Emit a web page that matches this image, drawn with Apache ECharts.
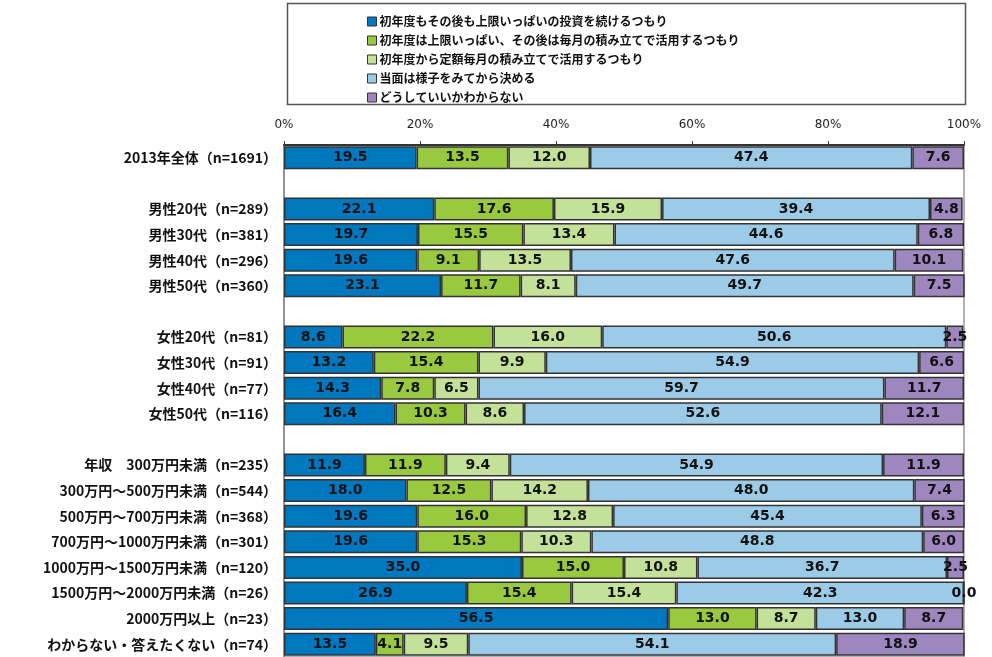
<!DOCTYPE html>
<html>
<head>
<meta charset="utf-8">
<script src="https://cdn.jsdelivr.net/npm/echarts@6/dist/echarts.min.js"></script>
<style>
  html, body { margin: 0; padding: 0; background: #fff; }
  #chart { width: 992px; height: 657px; }
</style>
</head>
<body>
<div id="chart"></div>
<script>
// Row labels, top to bottom; blank rows separate the groups
const categories = [
  '2013年全体（n=1691）',
  ' ',
  '男性20代（n=289）',
  '男性30代（n=381）',
  '男性40代（n=296）',
  '男性50代（n=360）',
  '  ',
  '女性20代（n=81）',
  '女性30代（n=91）',
  '女性40代（n=77）',
  '女性50代（n=116）',
  '   ',
  '年収　300万円未満（n=235）',
  '300万円～500万円未満（n=544）',
  '500万円～700万円未満（n=368）',
  '700万円～1000万円未満（n=301）',
  '1000万円～1500万円未満（n=120）',
  '1500万円～2000万円未満（n=26）',
  '2000万円以上（n=23）',
  'わからない・答えたくない（n=74）'
];

const seriesNames = [
  '初年度もその後も上限いっぱいの投資を続けるつもり',
  '初年度は上限いっぱい、その後は毎月の積み立てで活用するつもり',
  '初年度から定額毎月の積み立てで活用するつもり',
  '当面は様子をみてから決める',
  'どうしていいかわからない'
];

// Percentages per row (null = spacer row)
const fullInvest = [19.5, null, 22.1, 19.7, 19.6, 23.1, null, 8.6, 13.2, 14.3, 16.4, null, 11.9, 18.0, 19.6, 19.6, 35.0, 26.9, 56.5, 13.5];
const fullThenMonthly = [13.5, null, 17.6, 15.5, 9.1, 11.7, null, 22.2, 15.4, 7.8, 10.3, null, 11.9, 12.5, 16.0, 15.3, 15.0, 15.4, 13.0, 4.1];
const monthlyFixed = [12.0, null, 15.9, 13.4, 13.5, 8.1, null, 16.0, 9.9, 6.5, 8.6, null, 9.4, 14.2, 12.8, 10.3, 10.8, 15.4, 8.7, 9.5];
const waitAndSee = [47.4, null, 39.4, 44.6, 47.6, 49.7, null, 50.6, 54.9, 59.7, 52.6, null, 54.9, 48.0, 45.4, 48.8, 36.7, 42.3, 13.0, 54.1];
const notSure = [7.6, null, 4.8, 6.8, 10.1, 7.5, null, 2.5, 6.6, 11.7, 12.1, null, 11.9, 7.4, 6.3, 6.0, 2.5, 0.0, 8.7, 18.9];

const xTicks = [0, 20, 40, 60, 80, 100];

const colors = ['#0078BF', '#99C93F', '#C4E199', '#9CCBE7', '#9E87BF'];
const valueSets = [fullInvest, fullThenMonthly, monthlyFixed, waitAndSee, notSure];

const chart = echarts.init(document.getElementById('chart'));

const series = seriesNames.map((name, i) => ({
  name: name,
  type: 'bar',
  stack: 'total',
  barWidth: 23,
  data: valueSets[i],
  itemStyle: { color: colors[i], borderColor: '#333', borderWidth: 1.5 },
  label: {
    show: true,
    position: 'inside',
    color: '#111',
    fontFamily: 'DejaVu Sans',
    fontWeight: 'bold',
    fontSize: 14,
    formatter: p => (p.value == null ? '' : Number(p.value).toFixed(1))
  },
  emphasis: { disabled: true }
}));

chart.setOption({
  animation: false,
  color: colors,
  graphic: [{
    type: 'rect',
    left: 285, top: 1,
    shape: { width: 678, height: 101 },
    style: { fill: 'none', stroke: '#555', lineWidth: 1.5 },
    silent: true
  }],
  legend: {
    orient: 'vertical',
    left: 362,
    top: 10,
    itemWidth: 9,
    itemHeight: 9,
    itemGap: 6,
    icon: 'rect',
    itemStyle: { borderColor: '#333', borderWidth: 1 },
    textStyle: {
      fontFamily: 'Noto Sans CJK JP',
      fontWeight: 'bold',
      fontSize: 12,
      lineHeight: 13,
      color: '#111',
      padding: [0, 0, 0, -2]
    },
    data: seriesNames
  },
  grid: {
    left: 284,
    right: 28,
    top: 145,
    height: 520,
    show: true,
    borderColor: '#999',
    borderWidth: 1.5
  },
  xAxis: {
    type: 'value',
    position: 'top',
    min: xTicks[0],
    max: xTicks[xTicks.length - 1],
    interval: xTicks[1] - xTicks[0],
    axisLine: { show: true, lineStyle: { color: '#333', width: 2 } },
    axisTick: { show: true, length: 4, lineStyle: { color: '#333', width: 1 } },
    splitLine: { show: false },
    axisLabel: {
      formatter: '{value}%',
      margin: 14,
      fontFamily: 'DejaVu Sans',
      fontSize: 12,
      color: '#222'
    }
  },
  yAxis: {
    type: 'category',
    inverse: true,
    data: categories,
    axisLine: { show: true, lineStyle: { color: '#888', width: 1.5 } },
    axisTick: { show: false },
    axisLabel: {
      margin: 7,
      fontFamily: 'Noto Sans CJK JP',
      fontWeight: 'bold',
      fontSize: 14,
      color: '#111'
    }
  },
  series: series
});
</script>
</body>
</html>
